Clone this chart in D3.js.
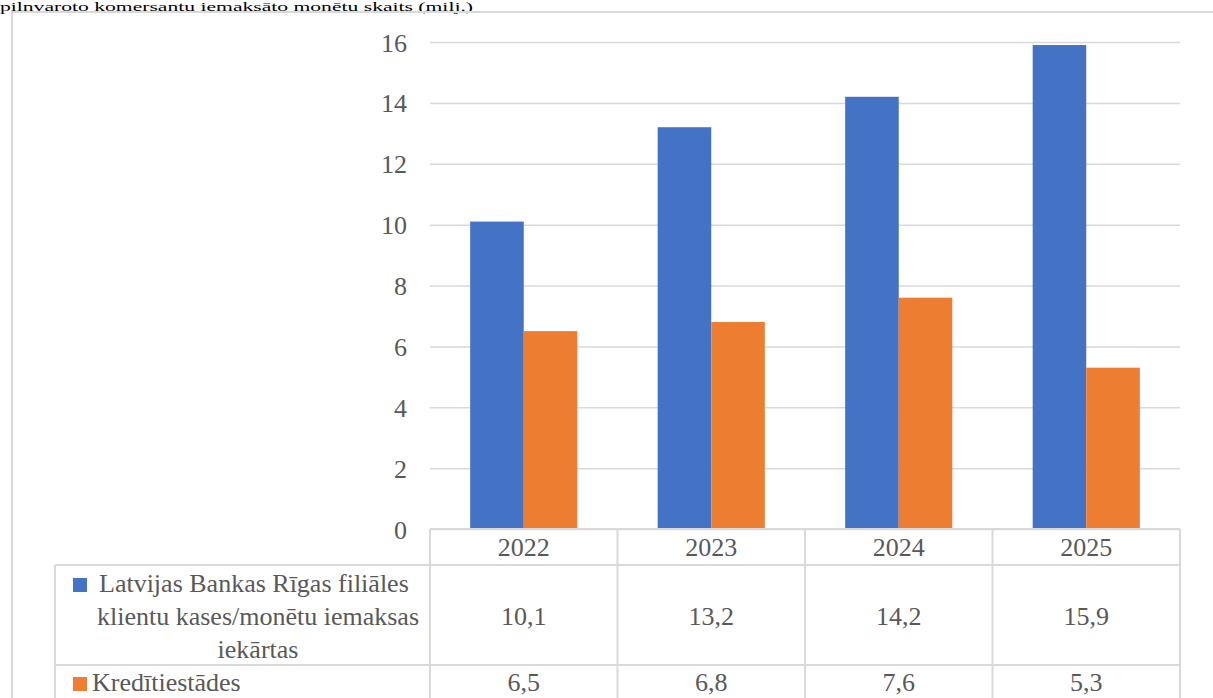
<!DOCTYPE html>
<html>
<head>
<meta charset="utf-8">
<script src="https://cdn.jsdelivr.net/npm/d3@7"></script>
</head>
<body style="margin:0">
<div id="c"></div>
<script>
var years = ['2022', '2023', '2024', '2025'];
var seriesLines = [['Latvijas Bankas Rīgas filiāles', 'klientu kases/monētu iemaksas', 'iekārtas'], ['Kredītiestādes']];
var bankValues = [10.1, 13.2, 14.2, 15.9];
var creditValues = [6.5, 6.8, 7.6, 5.3];
var yTicks = [0, 2, 4, 6, 8, 10, 12, 14, 16];
var titleText = 'pilnvaroto komersantu iemaksāto monētu skaits (milj.)';

var colors = ['#4472C4', '#ED7D31'];
var gridColor = '#d9d9d9';
var FONT = 'Liberation Serif';
var FS = 26;

var W = 1213, H = 698;
var plot = {left: 430, right: 1180, top: 42, bottom: 529};

var svg = d3.select('#c').append('svg')
    .attr('width', W)
    .attr('height', H);

function txt(sel, size){
  return sel.attr('font-family', FONT)
    .attr('font-size', size || FS)
    .attr('fill', '#595959');
}

// title strip above the frame (only its lower part shows in the source)
txt(svg.append('text'), 12)
    .attr('x', 0)
    .attr('y', 11)
    .attr('fill', '#000')
    .attr('textLength', 473)
    .attr('lengthAdjust', 'spacingAndGlyphs')
    .text(titleText);

// outer chart frame
svg.append('path')
    .attr('d', 'M12,' + H + 'V12H' + W)
    .attr('fill', 'none')
    .attr('stroke', gridColor)
    .attr('stroke-width', 2);

var x = d3.scaleBand()
    .domain(years)
    .range([plot.left, plot.right]);

var xs = d3.scaleBand()
    .domain([0, 1])
    .range([0, x.bandwidth()])
    .paddingOuter(0.75)
    .paddingInner(0);

var y = d3.scaleLinear()
    .domain([0, 16])
    .range([plot.bottom, plot.top]);

var yAxis = d3.axisLeft(y)
    .tickValues(yTicks)
    .tickSize(-(plot.right - plot.left))
    .tickPadding(23)
    .tickFormat(d3.format('d'));

var gy = svg.append('g')
    .attr('transform', 'translate(' + plot.left + ',0)')
    .call(yAxis);
gy.select('.domain').remove();
gy.selectAll('.tick line')
    .attr('stroke', gridColor)
    .attr('stroke-width', 1.5);
txt(gy.selectAll('.tick text'))
    .attr('dy', '0.35em');

var data = years.map(function(yr, i){
  return {year: yr, values: [bankValues[i], creditValues[i]]};
});

var grp = svg.selectAll('.yr')
    .data(data)
  .enter().append('g')
    .attr('class', 'yr')
    .attr('transform', function(d){ return 'translate(' + x(d.year) + ',0)'; });

grp.selectAll('rect')
    .data(function(d){ return d.values; })
  .enter().append('rect')
    .attr('x', function(d, i){ return xs(i); })
    .attr('width', xs.bandwidth())
    .attr('y', function(d){ return y(d); })
    .attr('height', function(d){ return y(0) - y(d); })
    .attr('fill', function(d, i){ return colors[i]; });

// data table below the plot
var headerBottom = 565, row1Bottom = 665, tableLeft = 55;
var table = svg.append('g')
    .attr('stroke', gridColor)
    .attr('stroke-width', 2)
    .attr('fill', 'none');

table.append('line')
    .attr('x1', plot.left).attr('x2', plot.right)
    .attr('y1', y(0)).attr('y2', y(0));
[headerBottom, row1Bottom].forEach(function(yy){
  table.append('line')
      .attr('x1', tableLeft).attr('x2', plot.right)
      .attr('y1', yy).attr('y2', yy);
});
table.append('line')
    .attr('x1', tableLeft).attr('x2', tableLeft)
    .attr('y1', headerBottom).attr('y2', H);
d3.range(years.length + 1).forEach(function(i){
  var xx = plot.left + i * x.step();
  table.append('line')
      .attr('x1', xx).attr('x2', xx)
      .attr('y1', y(0)).attr('y2', H);
});

// year labels
txt(svg.selectAll('.yl')
    .data(years)
  .enter().append('text'))
    .attr('class', 'yl')
    .attr('x', function(d){ return x(d) + x.bandwidth() / 2; })
    .attr('y', 556)
    .attr('text-anchor', 'middle')
    .text(function(d){ return d; });

var rowBase = [625, 691];
var fmt = function(v){ return d3.format('.1f')(v).replace('.', ','); };

[bankValues, creditValues].forEach(function(vals, r){
  txt(svg.selectAll('.v' + r)
      .data(vals)
    .enter().append('text'))
      .attr('class', 'v' + r)
      .attr('x', function(d, i){ return x(years[i]) + x.bandwidth() / 2; })
      .attr('y', rowBase[r])
      .attr('text-anchor', 'middle')
      .text(fmt);
});

// legend keys inside the table
var lineH = 33;
seriesLines[0].forEach(function(t, i){
  txt(svg.append('text'))
      .attr('x', i == 0 ? 99 : 258)
      .attr('y', rowBase[0] + (i - 1) * lineH)
      .attr('text-anchor', i == 0 ? 'start' : 'middle')
      .text(t);
});
svg.append('rect')
    .attr('x', 73).attr('y', 578)
    .attr('width', 14).attr('height', 14)
    .attr('fill', colors[0]);

svg.append('rect')
    .attr('x', 73).attr('y', 677)
    .attr('width', 14).attr('height', 14)
    .attr('fill', colors[1]);
txt(svg.append('text'))
    .attr('x', 92)
    .attr('y', rowBase[1])
    .text(seriesLines[1][0]);
</script>
</body>
</html>
